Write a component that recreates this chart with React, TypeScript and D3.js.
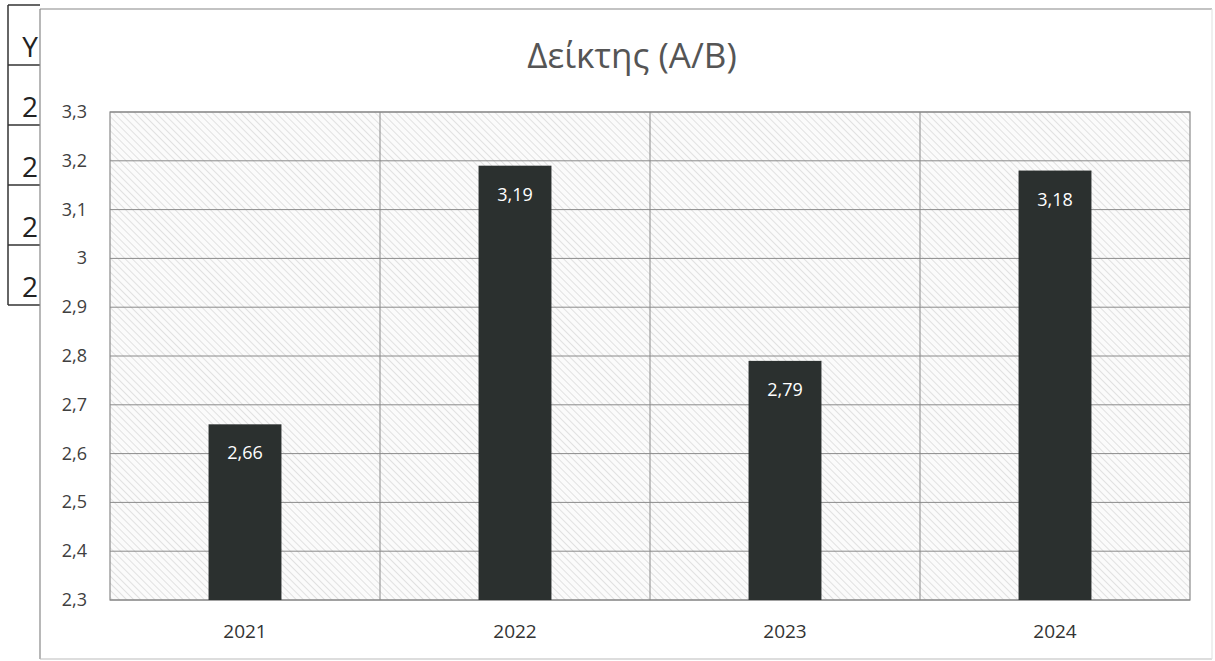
import React from "react";
import * as d3 from "d3";

const categories = ["2021", "2022", "2023", "2024"];
const values = [2.66, 3.19, 2.79, 3.18];
const valueLabels = ["2,66", "3,19", "2,79", "3,18"];
const yTicks = [2.3, 2.4, 2.5, 2.6, 2.7, 2.8, 2.9, 3.0, 3.1, 3.2, 3.3];
const tableCells = ["Y", "2", "2", "2", "2"];
const title = "Δείκτης (A/B)";

const W = 1215;
const H = 661;
const plot = { left: 110, right: 1190, top: 112, bottom: 600 };

const fmt = (v: number) => {
  const s = d3.format(".1f")(v);
  const t = s.endsWith(".0") ? s.slice(0, -2) : s;
  return t.replace(".", ",");
};

export default function App() {
  const x = d3.scaleBand<string>().domain(categories).range([plot.left, plot.right]).paddingInner(0).paddingOuter(0);
  const y = d3.scaleLinear().domain([2.3, 3.3]).range([plot.bottom, plot.top]);
  const bw = x.bandwidth() * 0.27;
  const font = "'Open Sans', 'Noto Sans', sans-serif";

  return (
    <svg width={W} height={H} style={{ position: "absolute", left: 0, top: 0, background: "#fff" }} fontFamily={font}>
      <defs>
        <pattern id="hatch" patternUnits="userSpaceOnUse" width="5" height="5" patternTransform="rotate(-45)">
          <rect width="5" height="5" fill="#fbfbfb" />
          <line x1="0" y1="0" x2="0" y2="5" stroke="#d9d9d9" strokeWidth="1.5" />
        </pattern>
      </defs>

      {/* left table fragment */}
      <g stroke="#333" strokeWidth={1.5} fill="none">
        <line x1={8} y1={5} x2={40} y2={5} />
        <line x1={8} y1={5} x2={8} y2={305} />
        {tableCells.map((_, i) => (
          <line key={i} x1={8} y1={65 + i * 60} x2={40} y2={65 + i * 60} />
        ))}
      </g>
      {tableCells.map((t, i) => (
        <text key={i} x={38} y={57 + i * 60} textAnchor="end" fontSize={28} fill="#222">
          {t}
        </text>
      ))}

      {/* chart outer border */}
      <g stroke="#888" strokeWidth={1.2} fill="none">
        <line x1={40} y1={9} x2={1212} y2={9} />
        <line x1={40} y1={9} x2={40} y2={659} />
        <line x1={40} y1={659} x2={1212} y2={659} stroke="#bbb" />
        <line x1={1212} y1={9} x2={1212} y2={659} stroke="#e4e4e4" />
      </g>

      <text x={632} y={68} textAnchor="middle" fontSize={35} fill="#555">
        {title}
      </text>

      {/* plot area */}
      <rect x={plot.left} y={plot.top} width={plot.right - plot.left} height={plot.bottom - plot.top} fill="url(#hatch)" />
      {yTicks.map((t) => (
        <line key={t} x1={plot.left} x2={plot.right} y1={y(t)} y2={y(t)} stroke="#8a8a8a" strokeWidth={1} />
      ))}
      {categories.slice(1).map((c) => (
        <line key={c} x1={x(c)!} x2={x(c)!} y1={plot.top} y2={plot.bottom} stroke="#8a8a8a" strokeWidth={1} />
      ))}
      <rect x={plot.left} y={plot.top} width={plot.right - plot.left} height={plot.bottom - plot.top} fill="none" stroke="#8a8a8a" strokeWidth={1.2} />

      {yTicks.map((t) => (
        <text key={t} x={87} y={y(t) + 6} textAnchor="end" fontSize={18} fill="#404040">
          {fmt(t)}
        </text>
      ))}

      {categories.map((c, i) => {
        const cx = x(c)! + x.bandwidth() / 2;
        return (
          <g key={c}>
            <rect x={cx - bw / 2} y={y(values[i])} width={bw} height={plot.bottom - y(values[i])} fill="#2b302f" />
            <text x={cx} y={y(values[i]) + 35} textAnchor="middle" fontSize={18} fill="#fff">
              {valueLabels[i]}
            </text>
            <text x={cx} y={638} textAnchor="middle" fontSize={19} fill="#333">
              {c}
            </text>
          </g>
        );
      })}
    </svg>
  );
}
